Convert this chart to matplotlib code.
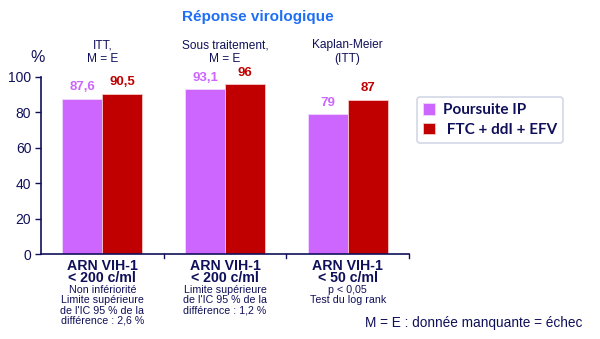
import numpy as np
import matplotlib
matplotlib.use("Agg")
import matplotlib.pyplot as plt

plt.rcParams['font.family'] = ['Liberation Sans', 'DejaVu Sans']

# données
groupes = [["ARN VIH-1", "< 200 c/ml"], ["ARN VIH-1", "< 200 c/ml"], ["ARN VIH-1", "< 50 c/ml"]]
details = [["Non infériorité", "Limite supérieure", "de l'IC 95 % de la", "différence : 2,6 %"],
           ["Limite supérieure", "de l'IC 95 % de la", "différence : 1,2 %"],
           ["p < 0,05", "Test du log rank"]]
entetes = [["ITT,", "M = E"], ["Sous traitement,", "M = E"], ["Kaplan-Meier", "(ITT)"]]
poursuite_ip = [87.6, 93.1, 79]
ftc_ddi_efv = [90.5, 96, 87]
series = ["Poursuite IP", " FTC + ddI + EFV"]

violet = "#CC66FF"
rouge = "#C00000"
marine = "#10105A"

W, H = 600, 339
fig = plt.figure(figsize=(W / 100, H / 100), dpi=100)
ax = fig.add_axes([41 / W, 1 - 254 / H, (409 - 41) / W, (254 - 77) / H])

x = np.arange(len(groupes))
larg = 0.325
b1 = ax.bar(x - larg / 2, poursuite_ip, larg, color=violet, edgecolor="#f0d8ff", linewidth=0.6,
            label=series[0])
b2 = ax.bar(x + larg / 2, ftc_ddi_efv, larg, color=rouge, edgecolor="#f5c8c8", linewidth=0.6,
            label=series[1])

for barres, vals, coul in [(b1, poursuite_ip, violet), (b2, ftc_ddi_efv, rouge)]:
    for rect, v in zip(barres, vals):
        ax.annotate(f"{v:g}".replace(".", ","), (rect.get_x() + rect.get_width() / 2, v),
                    xytext=(0, 4), textcoords="offset points", ha="center", va="bottom",
                    color=coul, fontsize=9.5, fontweight="bold")

ax.set_xlim(-0.5, len(groupes) - 0.5)
ax.set_ylim(0, 100)
ax.set_yticks(range(0, 101, 20))
ax.tick_params(axis="y", colors=marine, labelsize=10, length=4, width=1, direction="out", pad=3)
ax.set_xticks([])
for s in ["top", "right"]:
    ax.spines[s].set_visible(False)
for s in ["left", "bottom"]:
    ax.spines[s].set_color(marine)
    ax.spines[s].set_linewidth(1.2)

# petits traits de séparation sous l'axe
for xb in np.arange(0.5, len(groupes), 1.0):
    ax.plot([xb, xb], [0, -2.5], color=marine, lw=1, clip_on=False)


def px(xp, yp):
    return xp / W, 1 - yp / H


centres = [41 + (409 - 41) / 3 * (i + 0.5) for i in range(3)]

for cx, lignes in zip(centres, entetes):
    for k, t in enumerate(lignes):
        fig.text(*px(cx, 45 + 14 * k), t, ha="center", va="center", fontsize=8.6, color=marine)

for cx, g, d in zip(centres, groupes, details):
    for k, t in enumerate(g):
        fig.text(*px(cx, 266 + 12.5 * k), t, ha="center", va="center", fontsize=10.2,
                 fontweight="bold", color=marine)
    for k, t in enumerate(d):
        fig.text(*px(cx, 290 + 10.3 * k), t, ha="center", va="center", fontsize=7.7,
                 color=marine)

fig.text(*px(258, 17), "Réponse virologique", ha="center", va="center", fontsize=11,
         fontweight="bold", color="#1F6FF5")
fig.text(*px(38, 58), "%", ha="center", va="center", fontsize=11.5, color=marine)
fig.text(*px(582, 323), "M = E : donnée manquante = échec", ha="right", va="center",
         fontsize=9.8, color=marine)

leg = ax.legend(loc="upper left", bbox_to_anchor=px(417, 97), bbox_transform=fig.transFigure,
                frameon=True, fancybox=True, prop={"family": "Lato", "weight": "bold", "size": 11},
                handlelength=0.8, handleheight=0.8, handletextpad=0.5, borderpad=0.4,
                labelspacing=0.35, borderaxespad=0)
leg.get_frame().set_edgecolor("#c8cde0")
leg.get_frame().set_linewidth(1.2)
for t in leg.get_texts():
    t.set_color(marine)

fig.savefig("out.png", dpi=100)
